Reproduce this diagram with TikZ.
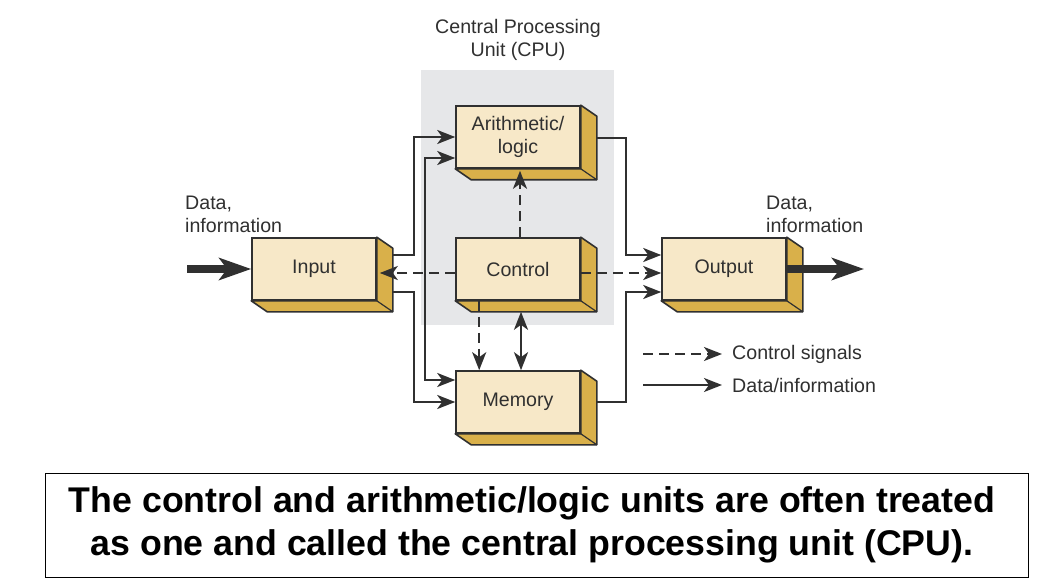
\documentclass[tikz,border=0pt]{standalone}
\usepackage{fontspec}
\setmainfont{Liberation Sans}
\usetikzlibrary{arrows.meta,calc}
\definecolor{face}{HTML}{F7E8C8}
\definecolor{side}{HTML}{D9B04A}
\definecolor{ink}{HTML}{303030}
\definecolor{cpubg}{HTML}{E6E7E9}
\begin{document}
\begin{tikzpicture}[x=1pt,y=-1pt,
  unit/.style={draw=ink, line width=1.6pt, fill=face, minimum width=124pt, minimum height=62pt,
    inner sep=0pt, font=\fontsize{19.6}{22.5}\selectfont, text=ink, align=center},
  lbl/.style={font=\fontsize{19.6}{23}\selectfont, text=ink, inner sep=0pt},
  flow/.style={draw=ink, line width=2.3pt, -{Stealth[length=18pt,width=14pt,inset=5pt]}},
  both/.style={flow, {Stealth[length=18pt,width=14pt,inset=5pt]}-{Stealth[length=18pt,width=14pt,inset=5pt]}},
  ctrl/.style={flow, dash pattern=on 10pt off 6pt},
  big/.style={draw=ink, line width=7.5pt, -{Stealth[length=32pt,width=22pt,inset=8pt]}},
  capbox/.style={draw=black, line width=0.8pt, fill=white},
  captxt/.style={font=\fontsize{35.7}{43}\selectfont\bfseries, text=black, align=center, inner sep=0pt}
]
\useasboundingbox (0,0) rectangle (1060,580);
\fill[white] (0,0) rectangle (1060,580);

% CPU background
\node[fill=cpubg, minimum width=193pt, minimum height=255pt, inner sep=0pt] (cpu) at (517.5,197.5) {};
\node[lbl, align=center] (cputitle) at (518,40) {Central Processing\\Unit (CPU)};

% 3D box macro
\newcommand{\cubebox}[4]{%
  \node[unit] (#1) at (#2,#3) {#4};
  \draw[draw=ink, line width=1.6pt, fill=side, line join=round]
    (#1.north east) -- ++(16,11) -- ($(#1.south east)+(16,11)$) -- ($(#1.south west)+(16,11)$)
    -- (#1.south west) -- (#1.south east) -- cycle;
  \draw[ink, line width=1.2pt] (#1.south east) -- ++(16,11);
}

\cubebox{arith}{518}{137}{Arithmetic/\\logic}
\cubebox{input}{314}{269}{Input}
\cubebox{control}{518}{269}{Control}
\cubebox{memory}{518}{402}{Memory}
\cubebox{output}{724}{269}{Output}

% bus coordinates
\coordinate (busA) at (414,0);
\coordinate (busB) at (425,0);
\coordinate (busC) at (626,0);

% data flows
\draw[flow] ($(input.east)+(16,-14)$) -| (busA |- arith.west) -- (arith.west);
\draw[flow] ($(input.east)+(16,23)$) -| (busA |- memory.west) -- (memory.west);
\draw[both] ($(arith.west)+(0,21)$) -| (busB |- {$(memory.west)+(0,-22)$}) -- ($(memory.west)+(0,-22)$);
\draw[flow] ($(arith.east)+(16,1)$) -| (busC |- {$(output.west)+(0,-14)$}) -- ($(output.west)+(0,-14)$);
\draw[flow] ($(memory.east)+(16,0)$) -| (busC |- {$(output.west)+(0,23)$}) -- ($(output.west)+(0,23)$);
\draw[both] ($(control.south)+(3,11)$) -- ($(memory.north)+(3,0)$);

% control signals
\draw[ctrl] ($(control.west)+(0,4)$) -- ($(input.east)+(3,4)$);
\draw[ctrl] ($(control.east)+(0,4)$) -- ($(output.west)+(0,4)$);
\draw[ctrl] ($(control.north)+(2,0)$) -- ($(arith.south)+(2,2)$);
\draw[ctrl] ($(control.south west)+(24,0)$) -- ($(memory.north west)+(24,0)$);

% external data
\coordinate (datain) at (187,269);
\coordinate (dataout) at (864,269);
\draw[big] (datain) -- (input.west);
\draw[big] (output.east) -- (dataout);
\node[lbl, align=left, anchor=west] (inlbl) at (185,214) {Data,\\information};
\node[lbl, align=left, anchor=west] (outlbl) at (766,214) {Data,\\information};

% legend
\coordinate (l1s) at (643,354); \coordinate (l1e) at (722,354);
\coordinate (l2s) at (643,385); \coordinate (l2e) at (722,385);
\draw[ctrl] (l1s) -- (l1e);
\draw[flow] (l2s) -- (l2e);
\node[lbl, anchor=west] (leg1) at (732,354) {Control signals};
\node[lbl, anchor=west] (leg2) at (732,385) {Data/information};

% caption
\node[capbox, minimum width=983pt, minimum height=104pt, inner sep=0pt] (cap) at (536.5,525) {};
\node[captxt] (captext) at (532,525) {The control and arithmetic/logic units are often treated\\as one and called the central processing unit (CPU).};
\end{tikzpicture}
\end{document}
